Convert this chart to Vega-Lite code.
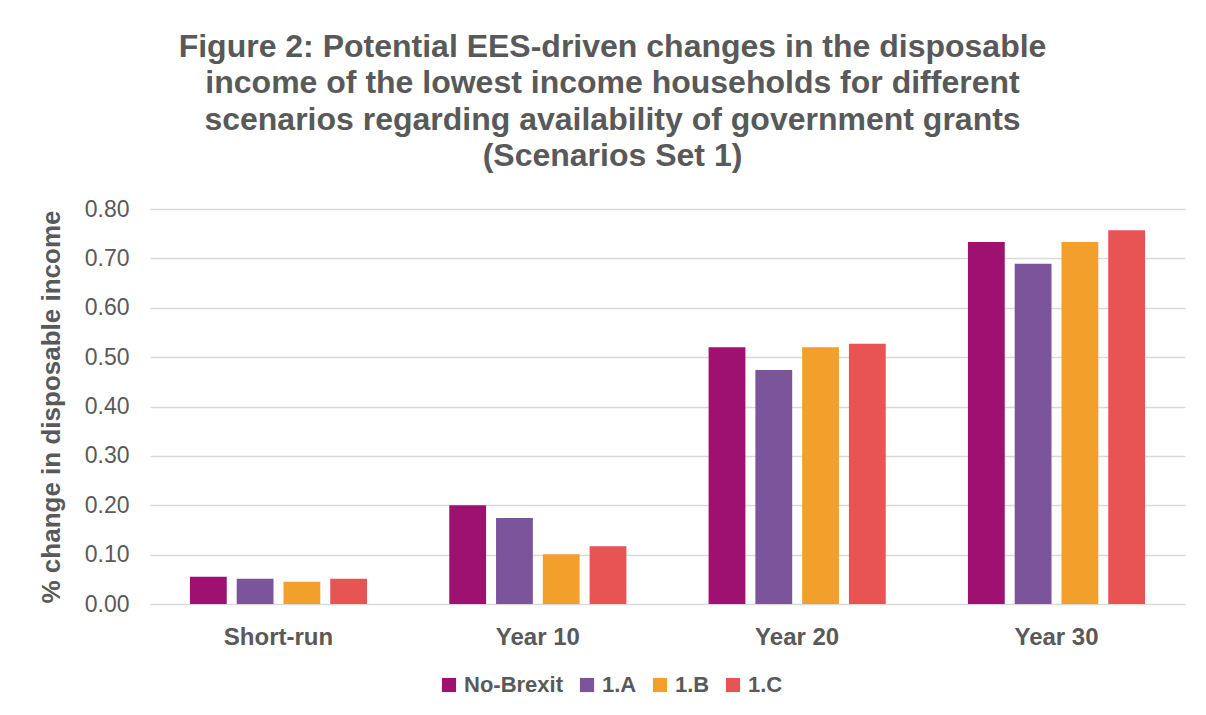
{
  "$schema": "https://vega.github.io/schema/vega-lite/v6.json",
  "width": 1035,
  "height": 395,
  "autosize": {"type": "none"},
  "padding": {"left": 150, "top": 209, "right": 21, "bottom": 111},
  "background": "white",
  "title": {
    "text": ["Figure 2: Potential EES-driven changes in the disposable", "income of the lowest income households for different", "scenarios regarding availability of government grants", "(Scenarios Set 1)"],
    "anchor": "middle",
    "frame": "group",
    "dx": -55,
    "offset": 25,
    "font": "Liberation Sans",
    "fontSize": 32,
    "fontWeight": "bold",
    "color": "#595959",
    "lineHeight": 36.5
  },
  "data": {
    "values": [
      {"period": "Short-run", "scenario": "No-Brexit", "value": 0.055},
      {"period": "Short-run", "scenario": "1.A", "value": 0.051},
      {"period": "Short-run", "scenario": "1.B", "value": 0.045},
      {"period": "Short-run", "scenario": "1.C", "value": 0.051},
      {"period": "Year 10", "scenario": "No-Brexit", "value": 0.200},
      {"period": "Year 10", "scenario": "1.A", "value": 0.174},
      {"period": "Year 10", "scenario": "1.B", "value": 0.101},
      {"period": "Year 10", "scenario": "1.C", "value": 0.117},
      {"period": "Year 20", "scenario": "No-Brexit", "value": 0.520},
      {"period": "Year 20", "scenario": "1.A", "value": 0.474},
      {"period": "Year 20", "scenario": "1.B", "value": 0.520},
      {"period": "Year 20", "scenario": "1.C", "value": 0.527},
      {"period": "Year 30", "scenario": "No-Brexit", "value": 0.733},
      {"period": "Year 30", "scenario": "1.A", "value": 0.689},
      {"period": "Year 30", "scenario": "1.B", "value": 0.733},
      {"period": "Year 30", "scenario": "1.C", "value": 0.757}
    ]
  },
  "mark": {"type": "bar"},
  "encoding": {
    "x": {
      "field": "period",
      "type": "nominal",
      "sort": ["Short-run", "Year 10", "Year 20", "Year 30"],
      "scale": {"paddingInner": 0.317, "paddingOuter": 0.154},
      "axis": {
        "title": null,
        "labelAngle": 0,
        "labelFont": "Liberation Sans",
        "labelFontSize": 24,
        "labelFontWeight": "bold",
        "labelColor": "#595959",
        "labelPadding": 21,
        "ticks": false,
        "domain": false,
        "grid": false
      }
    },
    "xOffset": {
      "field": "scenario",
      "type": "nominal",
      "sort": ["No-Brexit", "1.A", "1.B", "1.C"],
      "scale": {"paddingInner": 0.213, "paddingOuter": 0}
    },
    "y": {
      "field": "value",
      "type": "quantitative",
      "scale": {"domain": [0, 0.8], "nice": false},
      "axis": {
        "title": "% change in disposable income",
        "titleFont": "Liberation Sans",
        "titleFontSize": 26,
        "titleFontWeight": "bold",
        "titleColor": "#595959",
        "titlePadding": 20,
        "format": ".2f",
        "values": [0, 0.1, 0.2, 0.3, 0.4, 0.5, 0.6, 0.7, 0.8],
        "labelFont": "Liberation Sans",
        "labelFontSize": 23,
        "labelColor": "#595959",
        "labelPadding": 21,
        "ticks": false,
        "domain": false,
        "grid": true,
        "gridColor": "#d9d9d9",
        "gridWidth": 1.5
      }
    },
    "color": {
      "field": "scenario",
      "type": "nominal",
      "sort": ["No-Brexit", "1.A", "1.B", "1.C"],
      "scale": {
        "domain": ["No-Brexit", "1.A", "1.B", "1.C"],
        "range": ["#9E1170", "#7B549C", "#F39F2B", "#E85353"]
      },
      "legend": {
        "title": null,
        "orient": "none",
        "direction": "horizontal",
        "legendX": 288,
        "legendY": 465,
        "symbolType": "square",
        "symbolSize": 200,
        "symbolStrokeWidth": 0,
        "labelFont": "Liberation Sans",
        "labelFontSize": 22,
        "labelFontWeight": "bold",
        "labelColor": "#595959",
        "labelOffset": 4,
        "columnPadding": 12
      }
    }
  },
  "config": {"view": {"stroke": null}}
}
